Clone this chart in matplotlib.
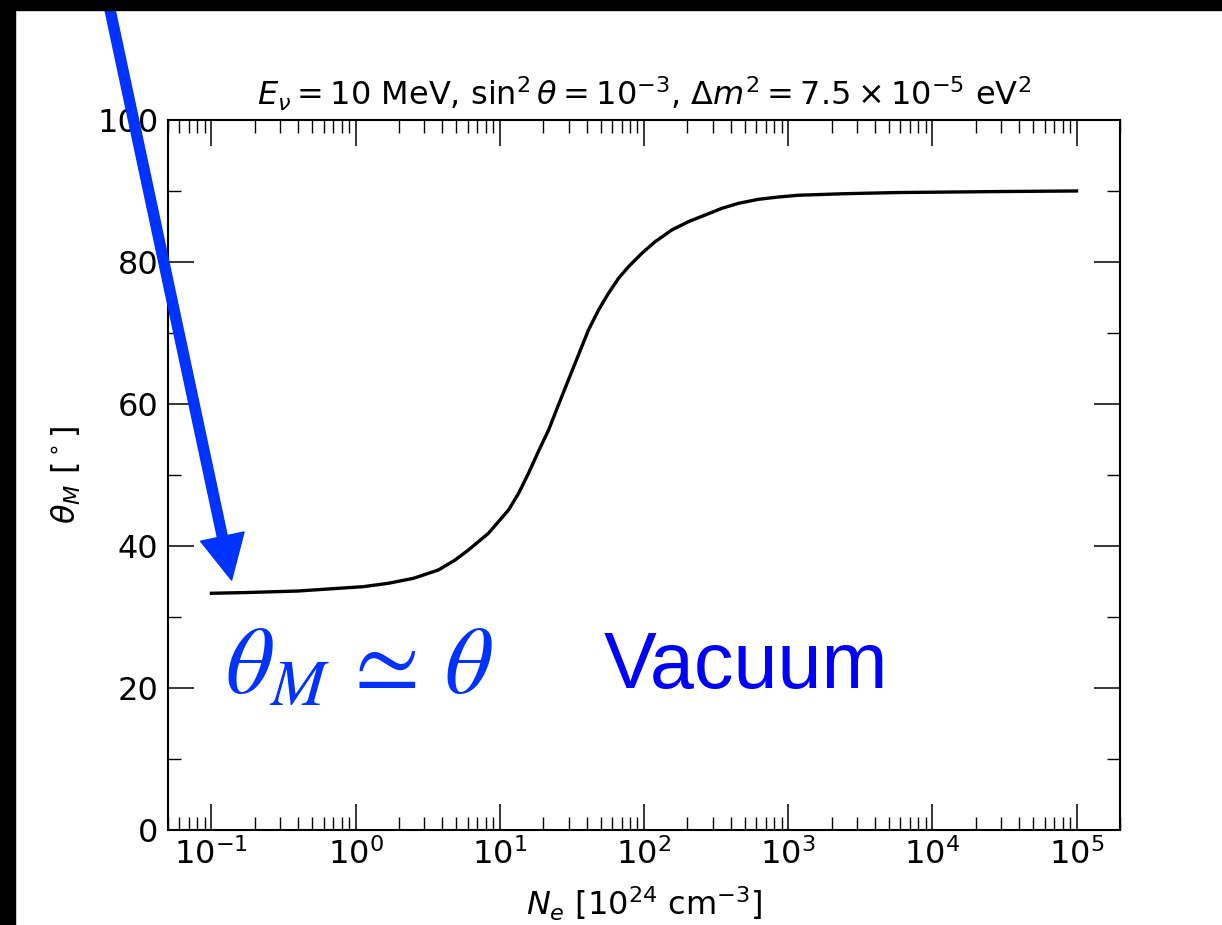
import numpy as np
import matplotlib
matplotlib.use("Agg")
import matplotlib.pyplot as plt
from matplotlib.patches import Rectangle

# electron density [1e24 cm^-3] and matter mixing angle [deg]
ne = [0.1, 0.18, 0.4, 0.76, 1.13, 1.69, 2.52, 3.75, 4.9, 6.06, 7.11, 8.34, 9.79,
      11.5, 13.5, 15.8, 18.5, 21.8, 25.5, 29.9, 35.1, 41.2, 48.4, 56.7, 66.6,
      78.1, 96.6, 119.5, 156.0, 203.5, 266.0, 347.0, 452.0, 623.0, 857.0,
      1180.0, 2500.0, 5810.0, 29500.0, 1e5]
theta_m = [33.34, 33.45, 33.66, 34.04, 34.27, 34.75, 35.45, 36.62, 38.03, 39.44, 40.61,
           41.79, 43.43, 45.07, 47.42, 50.23, 53.29, 56.34, 59.86, 63.38, 66.9, 70.42,
           73.24, 75.59, 77.7, 79.34, 81.22, 82.86, 84.51, 85.68, 86.62, 87.56, 88.26,
           88.83, 89.15, 89.4, 89.62, 89.78, 89.92, 90.0]

arrow_tip = (0.138, 35.2)

fig = plt.figure(figsize=(12.22, 9.25), dpi=100)
ax = fig.add_axes([0.1375, 0.1027, 0.779, 0.7676])

ax.plot(ne, theta_m, color='black', lw=2.4, solid_joinstyle='round')

ax.set_xscale('log')
ax.set_xlim(0.05, 2e5)
ax.set_ylim(0, 100)
ax.set_yticks([0, 20, 40, 60, 80, 100])
ax.set_yticks(np.arange(10, 100, 20), minor=True)

ax.tick_params(which='both', direction='in', top=True, right=True, labelsize=23)
ax.tick_params(which='major', length=19, width=1.1)
ax.tick_params(which='minor', length=9.5, width=1.0)
ax.tick_params(axis='y', pad=7)
ax.tick_params(axis='x', pad=6)
for s in ax.spines.values():
    s.set_linewidth(1.5)

ax.set_xlabel(r'$N_e$ [$10^{24}$ cm$^{-3}$]', fontsize=23, labelpad=10)
ax.set_ylabel(r'$\theta_M\ [^\circ]$', fontsize=23, labelpad=10)
ax.set_title(r'$E_\nu = 10$ MeV, $\sin^2\theta = 10^{-3}$, $\Delta m^2 = 7.5\times10^{-5}$ eV$^2$',
             fontsize=23, pad=10)

ax.text(0.125, 19.3, r'$\theta_M \,\simeq\, \theta$', color='#0033ff', fontsize=68,
        math_fontfamily='stix', va='baseline', ha='left')
ax.text(52.3, 20.0, 'Vacuum', color='blue', fontsize=57, family='Liberation Sans',
        va='baseline', ha='left')

# black bands from the screenshot
fig.patches.append(Rectangle((0, 0), 15 / 1222, 1, transform=fig.transFigure,
                             color='black', zorder=0))
fig.patches.append(Rectangle((0, 1 - 10 / 925), 1, 10 / 925, transform=fig.transFigure,
                             color='black', zorder=0))

ax.annotate('', xy=arrow_tip, xycoords='data',
            xytext=(0.0835, 1.03), textcoords='figure fraction',
            arrowprops=dict(color='#0033ff', width=7.2, headwidth=32, headlength=32,
                            shrink=0),
            annotation_clip=False, zorder=10)

fig.savefig('out.png', dpi=100)
